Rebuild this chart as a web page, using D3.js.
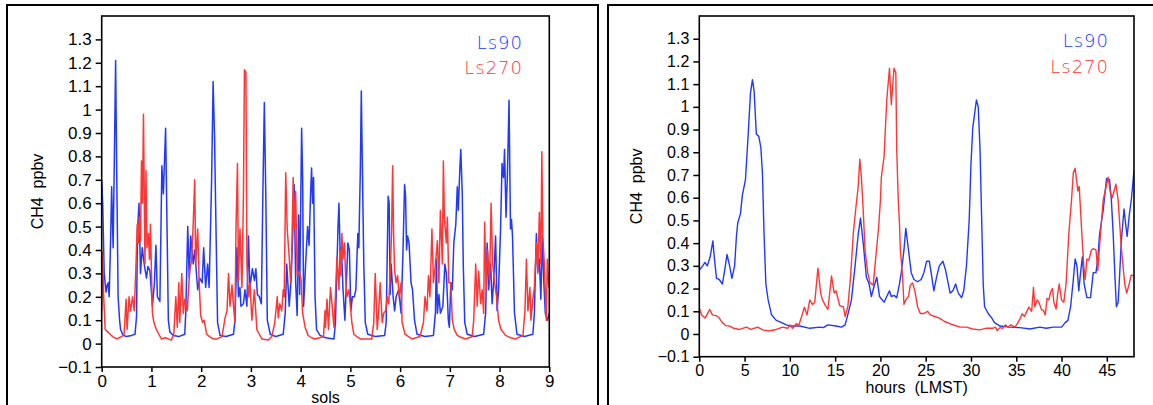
<!DOCTYPE html>
<html>
<head>
<meta charset="utf-8">
<script src="https://cdn.jsdelivr.net/npm/d3@7"></script>
<style>
  html, body { margin: 0; padding: 0; background: #fff; }
  svg { display: block; }
  .tick text { font-family: "Liberation Sans", Arial, sans-serif; fill: #000; }
  .tick line { stroke: #000; stroke-width: 1.5; }
  .title { font-family: "Liberation Sans", Arial, sans-serif; fill: #000; }
  .legend { font-family: "DejaVu Sans", sans-serif; font-weight: 200; letter-spacing: 1px; }
</style>
</head>
<body>
<svg id="chart" width="1153" height="405"></svg>
<script>
const blue = '#2038ff';
const red = '#ff3636';

// y ticks shared by both panels
const yTicks = [-0.1, 0, 0.1, 0.2, 0.3, 0.4, 0.5, 0.6, 0.7, 0.8, 0.9, 1, 1.1, 1.2, 1.3];
const solTicks = [0, 1, 2, 3, 4, 5, 6, 7, 8, 9];
const hourTicks = [0, 5, 10, 15, 20, 25, 30, 35, 40, 45];
const seriesNames = ['Ls90', 'Ls270'];

// left panel: 9 sols, [sol, ppbv]
const solsLs90 = [
  [0, 0.70], [0.02, 0.6], [0.05, 0.3], [0.088, 0.22], [0.11, 0.25], [0.13, 0.26], [0.15, 0.2], [0.18, 0.45],
  [0.2, 0.67], [0.23, 0.41], [0.255, 0.8], [0.28, 1.21], [0.3, 0.77], [0.33, 0.2], [0.36, 0.1], [0.38, 0.06],
  [0.43, 0.035], [0.5, 0.03], [0.6, 0.035], [0.67, 0.04], [0.7, 0.115], [0.72, 0.485], [0.75, 0.6], [0.78, 0.3],
  [0.815, 0.41], [0.855, 0.34], [0.9, 0.28], [0.93, 0.33], [0.97, 0.31], [1.02, 0.16], [1.06, 0.26], [1.09, 0.42],
  [1.12, 0.2], [1.17, 0.18], [1.21, 0.76], [1.24, 0.64], [1.285, 0.92], [1.3, 0.7], [1.34, 0.1], [1.37, 0.05],
  [1.44, 0.035], [1.55, 0.03], [1.67, 0.04], [1.69, 0.13], [1.73, 0.5], [1.76, 0.28], [1.79, 0.46], [1.84, 0.34],
  [1.87, 0.4], [1.93, 0.23], [1.97, 0.28], [2.02, 0.26], [2.05, 0.41], [2.09, 0.24], [2.13, 0.34], [2.16, 0.24],
  [2.21, 0.7], [2.24, 1.12], [2.27, 0.87], [2.29, 0.6], [2.31, 0.34], [2.33, 0.09], [2.38, 0.035], [2.5, 0.03],
  [2.65, 0.04], [2.68, 0.1], [2.72, 0.41], [2.75, 0.2], [2.78, 0.24], [2.8, 0.16], [2.85, 0.17], [2.88, 0.23],
  [2.92, 0.16], [2.95, 0.46], [2.98, 0.24], [3.03, 0.32], [3.07, 0.27], [3.1, 0.32], [3.13, 0.21], [3.17, 0.2],
  [3.21, 0.17], [3.24, 0.63], [3.27, 1.03], [3.3, 0.63], [3.33, 0.1], [3.39, 0.04], [3.5, 0.03], [3.65, 0.04],
  [3.69, 0.13], [3.72, 0.34], [3.77, 0.16], [3.81, 0.28], [3.84, 0.46], [3.87, 0.68], [3.9, 0.26], [3.93, 0.12],
  [3.96, 0.55], [3.98, 0.21], [4.02, 0.92], [4.04, 0.71], [4.06, 0.16], [4.1, 0.34], [4.14, 0.5], [4.17, 0.42],
  [4.2, 0.64], [4.22, 0.75], [4.24, 0.6], [4.26, 0.71], [4.29, 0.2], [4.32, 0.06], [4.39, 0.035], [4.5, 0.025],
  [4.67, 0.02], [4.7, 0.09], [4.75, 0.49], [4.77, 0.6], [4.8, 0.34], [4.82, 0.41], [4.85, 0.24], [4.89, 0.1],
  [4.92, 0.26], [4.95, 0.43], [4.98, 0.4], [5.01, 0.14], [5.04, 0.2], [5.08, 0.2], [5.11, 0.23], [5.15, 0.47],
  [5.17, 0.41], [5.2, 0.74], [5.22, 1.08], [5.24, 0.77], [5.27, 0.34], [5.3, 0.09], [5.35, 0.04], [5.5, 0.03],
  [5.69, 0.035], [5.72, 0.09], [5.76, 0.63], [5.78, 0.6], [5.8, 0.21], [5.82, 0.34], [5.86, 0.2], [5.89, 0.14],
  [5.92, 0.2], [5.97, 0.23], [6.02, 0.13], [6.06, 0.41], [6.09, 0.68], [6.11, 0.63], [6.13, 0.4], [6.15, 0.46],
  [6.18, 0.43], [6.22, 0.26], [6.25, 0.23], [6.29, 0.1], [6.34, 0.04], [6.5, 0.03], [6.67, 0.035], [6.71, 0.13],
  [6.73, 0.36], [6.75, 0.13], [6.78, 0.21], [6.81, 0.13], [6.86, 0.16], [6.9, 0.34], [6.93, 0.3], [6.97, 0.1],
  [6.99, 0.07], [7.02, 0.26], [7.05, 0.23], [7.08, 0.43], [7.12, 0.51], [7.15, 0.67], [7.17, 0.57], [7.2, 0.74],
  [7.22, 0.83], [7.25, 0.64], [7.27, 0.34], [7.3, 0.09], [7.35, 0.04], [7.5, 0.03], [7.68, 0.04], [7.72, 0.13],
  [7.75, 0.43], [7.78, 0.23], [7.82, 0.34], [7.85, 0.17], [7.88, 0.26], [7.92, 0.46], [7.95, 0.14], [7.98, 0.23],
  [8.02, 0.49], [8.05, 0.77], [8.08, 0.71], [8.1, 0.83], [8.13, 0.54], [8.16, 0.74], [8.19, 1.04], [8.22, 0.49],
  [8.24, 0.53], [8.26, 0.46], [8.3, 0.13], [8.35, 0.04], [8.5, 0.03], [8.67, 0.04], [8.7, 0.13], [8.74, 0.47],
  [8.77, 0.31], [8.8, 0.36], [8.83, 0.19], [8.86, 0.46], [8.89, 0.26], [8.92, 0.13], [8.96, 0.1], [9, 0.13],
];

const solsLs270 = [
  [0, 0.14], [0.02, 0.39], [0.04, 0.2], [0.07, 0.06], [0.12, 0.05], [0.17, 0.04], [0.22, 0.03], [0.3, 0.02],
  [0.35, 0.025], [0.4, 0.03], [0.45, 0.04], [0.49, 0.19], [0.51, 0.06], [0.55, 0.2], [0.58, 0.14], [0.62, 0.2],
  [0.655, 0.14], [0.69, 0.34], [0.715, 0.51], [0.735, 0.43], [0.755, 0.54], [0.78, 0.44], [0.8, 0.78], [0.82, 0.6],
  [0.84, 0.98], [0.87, 0.34], [0.89, 0.74], [0.91, 0.41], [0.94, 0.47], [0.96, 0.36], [0.98, 0.51], [1.0, 0.31],
  [1.02, 0.13], [1.05, 0.09], [1.1, 0.06], [1.15, 0.04], [1.2, 0.02], [1.28, 0.025], [1.34, 0.02], [1.4, 0.015],
  [1.45, 0.04], [1.49, 0.2], [1.52, 0.07], [1.55, 0.26], [1.57, 0.09], [1.61, 0.3], [1.64, 0.13], [1.67, 0.19],
  [1.72, 0.14], [1.77, 0.31], [1.81, 0.36], [1.84, 0.51], [1.87, 0.7], [1.89, 0.34], [1.93, 0.49], [1.96, 0.26],
  [1.99, 0.12], [2.03, 0.09], [2.06, 0.1], [2.11, 0.04], [2.17, 0.03], [2.24, 0.02], [2.32, 0.02], [2.42, 0.03],
  [2.48, 0.11], [2.52, 0.14], [2.55, 0.3], [2.58, 0.16], [2.62, 0.25], [2.65, 0.16], [2.68, 0.09], [2.7, 0.49],
  [2.73, 0.77], [2.75, 0.27], [2.78, 0.49], [2.82, 0.24], [2.85, 0.63], [2.87, 1.17], [2.9, 1.16], [2.92, 0.34],
  [2.95, 0.2], [2.98, 0.26], [3.02, 0.1], [3.07, 0.23], [3.12, 0.06], [3.17, 0.04], [3.22, 0.02], [3.35, 0.015],
  [3.42, 0.03], [3.48, 0.09], [3.53, 0.2], [3.55, 0.11], [3.58, 0.17], [3.62, 0.14], [3.65, 0.23], [3.67, 0.2],
  [3.7, 0.73], [3.73, 0.49], [3.77, 0.37], [3.8, 0.26], [3.82, 0.37], [3.85, 0.71], [3.87, 0.49], [3.9, 0.65],
  [3.93, 0.29], [3.97, 0.31], [4.01, 0.27], [4.04, 0.13], [4.09, 0.07], [4.15, 0.035], [4.22, 0.025], [4.29, 0.02],
  [4.38, 0.025], [4.46, 0.03], [4.49, 0.14], [4.5, 0.07], [4.53, 0.19], [4.56, 0.06], [4.6, 0.24], [4.63, 0.17],
  [4.67, 0.07], [4.7, 0.21], [4.73, 0.37], [4.77, 0.23], [4.79, 0.4], [4.81, 0.29], [4.83, 0.47], [4.85, 0.36],
  [4.88, 0.43], [4.91, 0.26], [4.93, 0.2], [4.97, 0.23], [5.0, 0.16], [5.03, 0.09], [5.07, 0.04], [5.13, 0.03],
  [5.2, 0.02], [5.3, 0.02], [5.43, 0.02], [5.47, 0.09], [5.5, 0.3], [5.54, 0.06], [5.57, 0.14], [5.6, 0.26],
  [5.64, 0.09], [5.67, 0.13], [5.71, 0.14], [5.74, 0.2], [5.77, 0.17], [5.8, 0.29], [5.83, 0.49], [5.85, 0.76],
  [5.87, 0.46], [5.89, 0.31], [5.92, 0.26], [5.95, 0.29], [5.98, 0.2], [6.02, 0.26], [6.04, 0.09], [6.1, 0.04],
  [6.17, 0.03], [6.24, 0.02], [6.32, 0.025], [6.4, 0.03], [6.47, 0.09], [6.5, 0.2], [6.54, 0.14], [6.57, 0.29],
  [6.6, 0.2], [6.64, 0.49], [6.67, 0.26], [6.71, 0.34], [6.75, 0.44], [6.78, 0.26], [6.81, 0.57], [6.85, 0.34],
  [6.87, 0.78], [6.89, 0.54], [6.93, 0.43], [6.95, 0.54], [6.98, 0.26], [7.02, 0.26], [7.05, 0.1], [7.09, 0.06],
  [7.15, 0.035], [7.24, 0.025], [7.32, 0.02], [7.45, 0.03], [7.48, 0.1], [7.52, 0.34], [7.55, 0.16], [7.58, 0.31],
  [7.62, 0.17], [7.65, 0.23], [7.68, 0.13], [7.7, 0.52], [7.73, 0.23], [7.76, 0.4], [7.8, 0.27], [7.83, 0.6],
  [7.86, 0.34], [7.9, 0.26], [7.94, 0.2], [7.98, 0.1], [8.03, 0.06], [8.12, 0.035], [8.22, 0.025], [8.32, 0.02],
  [8.47, 0.035], [8.51, 0.14], [8.54, 0.36], [8.57, 0.14], [8.61, 0.24], [8.63, 0.1], [8.67, 0.19], [8.7, 0.24],
  [8.74, 0.43], [8.77, 0.3], [8.8, 0.56], [8.83, 0.34], [8.85, 0.82], [8.87, 0.46], [8.9, 0.34], [8.94, 0.1],
  [8.96, 0.36], [8.99, 0.24],
];

// right panel: 48 hours, [hour LMST, ppbv]
const hoursLs90 = [
  [0, 0.28], [0.37, 0.3], [0.63, 0.315], [0.88, 0.3], [1.2, 0.34], [1.5, 0.41], [1.65, 0.34], [1.9, 0.245],
  [2.2, 0.24], [2.55, 0.22], [2.8, 0.28], [3.06, 0.35], [3.35, 0.3], [3.6, 0.245], [3.9, 0.3], [4.1, 0.43],
  [4.25, 0.49], [4.55, 0.53], [4.75, 0.61], [5.1, 0.68], [5.4, 0.88], [5.65, 1.06], [5.87, 1.12], [6.05, 1.07],
  [6.3, 0.88], [6.57, 0.87], [6.8, 0.82], [6.97, 0.71], [7.05, 0.59], [7.15, 0.44], [7.35, 0.22], [7.6, 0.15],
  [7.97, 0.085], [8.5, 0.06], [9.1, 0.05], [9.6, 0.04], [10, 0.035], [11.1, 0.035], [12.2, 0.025], [13.3, 0.03],
  [13.7, 0.028], [14.2, 0.04], [15.1, 0.035], [15.7, 0.03], [16.1, 0.04], [16.4, 0.085], [16.8, 0.15], [17.2, 0.3],
  [17.55, 0.44], [17.8, 0.51], [18.1, 0.4], [18.45, 0.25], [18.75, 0.22], [19.0, 0.165], [19.3, 0.21], [19.6, 0.25],
  [19.9, 0.165], [20.4, 0.14], [20.7, 0.165], [21.0, 0.19], [21.2, 0.165], [21.5, 0.17], [21.8, 0.16], [22.1, 0.22],
  [22.3, 0.27], [22.6, 0.37], [22.8, 0.465], [23.1, 0.37], [23.4, 0.27], [23.7, 0.24], [24.1, 0.23], [24.5, 0.24],
  [24.8, 0.27], [25.1, 0.32], [25.4, 0.32], [25.6, 0.27], [25.9, 0.19], [26.2, 0.25], [26.5, 0.3], [26.9, 0.32],
  [27.2, 0.28], [27.5, 0.22], [27.7, 0.18], [28.0, 0.19], [28.3, 0.22], [28.6, 0.18], [28.96, 0.16], [29.2, 0.19],
  [29.5, 0.3], [29.8, 0.5], [30.0, 0.75], [30.2, 0.91], [30.6, 1.03], [30.8, 1.0], [31.0, 0.81], [31.17, 0.52],
  [31.35, 0.22], [31.5, 0.12], [31.9, 0.09], [32.3, 0.07], [32.6, 0.05], [33.2, 0.035], [34.3, 0.03], [35.4, 0.028],
  [36.5, 0.022], [37.6, 0.03], [38.3, 0.025], [39.1, 0.03], [40.0, 0.03], [40.4, 0.05], [40.7, 0.06], [41.0, 0.12],
  [41.3, 0.24], [41.5, 0.33], [41.7, 0.3], [41.9, 0.19], [42.1, 0.27], [42.3, 0.34], [42.5, 0.22], [42.8, 0.16],
  [43.2, 0.16], [43.5, 0.27], [43.8, 0.27], [44.0, 0.33], [44.2, 0.44], [44.6, 0.545], [44.97, 0.685], [45.3, 0.68],
  [45.5, 0.59], [45.7, 0.44], [45.9, 0.25], [46.06, 0.12], [46.25, 0.14], [46.4, 0.25], [46.6, 0.41], [46.9, 0.55],
  [47.06, 0.49], [47.24, 0.43], [47.5, 0.53], [47.7, 0.59], [48, 0.72],
];

const hoursLs270 = [
  [0, 0.113], [0.26, 0.084], [0.63, 0.07], [0.9, 0.09], [1.16, 0.108], [1.45, 0.084], [1.9, 0.08], [2.2, 0.07],
  [2.55, 0.05], [2.9, 0.037], [3.35, 0.035], [3.8, 0.025], [4.45, 0.02], [5.2, 0.03], [5.7, 0.02], [6.45, 0.03],
  [7.0, 0.018], [7.7, 0.013], [8.5, 0.02], [9.2, 0.03], [9.76, 0.025], [10, 0.04], [10.3, 0.025], [10.7, 0.045],
  [11, 0.04], [11.3, 0.077], [11.6, 0.118], [11.9, 0.084], [12.2, 0.15], [12.5, 0.13], [12.75, 0.14], [13.1, 0.29],
  [13.4, 0.18], [13.6, 0.15], [14.0, 0.12], [14.2, 0.108], [14.6, 0.255], [14.9, 0.18], [15.1, 0.19], [15.5, 0.125],
  [15.9, 0.12], [16.1, 0.077], [16.4, 0.12], [16.7, 0.25], [17.0, 0.44], [17.3, 0.56], [17.55, 0.65], [17.72, 0.77],
  [17.9, 0.69], [18.1, 0.545], [18.3, 0.37], [18.6, 0.27], [18.85, 0.225], [19.2, 0.215], [19.4, 0.3], [19.8, 0.47],
  [20.0, 0.59], [20.1, 0.69], [20.4, 0.78], [20.7, 1.03], [21.0, 1.17], [21.2, 1.01], [21.5, 1.17], [21.7, 1.15],
  [21.8, 0.81], [21.97, 0.59], [22.1, 0.49], [22.2, 0.37], [22.45, 0.25], [22.6, 0.13], [22.8, 0.15], [23.1, 0.165],
  [23.3, 0.215], [23.55, 0.225], [23.8, 0.19], [24.1, 0.12], [24.4, 0.09], [24.8, 0.09], [25.2, 0.1], [25.5, 0.084],
  [26.0, 0.077], [26.5, 0.07], [27.1, 0.055], [27.8, 0.043], [28.8, 0.03], [29.5, 0.03], [30.2, 0.022], [30.98, 0.018],
  [31.7, 0.026], [32.4, 0.025], [32.7, 0.03], [32.9, 0.015], [33.2, 0.028], [33.5, 0.025], [33.8, 0.04], [34.1, 0.03],
  [34.4, 0.04], [34.85, 0.03], [35.1, 0.045], [35.4, 0.065], [35.65, 0.089], [35.9, 0.077], [36.1, 0.094], [36.4, 0.118],
  [36.7, 0.1], [36.9, 0.205], [37.05, 0.12], [37.3, 0.15], [37.5, 0.14], [37.8, 0.105], [38.0, 0.105], [38.2, 0.084],
  [38.4, 0.157], [38.6, 0.15], [38.8, 0.186], [39.0, 0.2], [39.15, 0.14], [39.4, 0.11], [39.55, 0.17], [39.74, 0.22],
  [40.0, 0.15], [40.25, 0.14], [40.5, 0.22], [40.8, 0.44], [41.1, 0.59], [41.3, 0.71], [41.5, 0.73], [41.8, 0.63],
  [41.95, 0.65], [42.2, 0.47], [42.45, 0.3], [42.6, 0.24], [42.8, 0.33], [43.0, 0.325], [43.3, 0.37], [43.5, 0.376],
  [43.8, 0.37], [44.0, 0.28], [44.3, 0.44], [44.6, 0.59], [45.15, 0.69], [45.4, 0.62], [45.6, 0.6], [46.0, 0.66],
  [46.25, 0.59], [46.6, 0.38], [46.98, 0.22], [47.2, 0.18], [47.4, 0.21], [47.7, 0.26], [47.96, 0.255],
];

const svg = d3.select('#chart');
const fmt = d3.format('.1~f');

// outer frames round each panel
svg.append('path')
  .attr('d', 'M7,410 V5 H598 V410')
  .attr('fill', 'none').attr('stroke', '#000').attr('stroke-width', 2);
svg.append('path')
  .attr('d', 'M608,410 V5 H1160')
  .attr('fill', 'none').attr('stroke', '#000').attr('stroke-width', 2);

const drawPanel = (p) => {
  const x = d3.scaleLinear().domain(p.xDomain).range([p.left, p.right]);
  const y = d3.scaleLinear().domain([-0.1, 1.4]).range([p.bottom, p.top]);
  const g = svg.append('g');

  const clipId = `clip-${p.id}`;
  g.append('clipPath').attr('id', clipId)
    .append('rect')
    .attr('x', p.left).attr('y', p.top)
    .attr('width', p.right - p.left).attr('height', p.bottom - p.top);

  const line = d3.line().x((d) => x(d[0])).y((d) => y(d[1]));
  const lines = g.append('g').attr('clip-path', `url(#${clipId})`);
  lines.append('path').datum(p.ls90).attr('d', line)
    .attr('fill', 'none').attr('stroke', blue).attr('stroke-width', p.lw).attr('stroke-linejoin', 'round');
  lines.append('path').datum(p.ls270).attr('d', line)
    .attr('fill', 'none').attr('stroke', red).attr('stroke-width', p.lw).attr('stroke-linejoin', 'round');

  const yAxis = g.append('g')
    .attr('transform', `translate(${p.left},0)`)
    .call(d3.axisLeft(y).tickValues(yTicks).tickFormat(fmt).tickSize(6).tickSizeOuter(0).tickPadding(4));
  yAxis.select('.domain').remove();
  yAxis.selectAll('text').style('font-size', `${p.fs}px`);

  const xAxis = g.append('g')
    .attr('transform', `translate(0,${p.bottom})`)
    .call(d3.axisBottom(x).tickValues(p.xTicks).tickFormat(d3.format('d')).tickSize(5).tickSizeOuter(0).tickPadding(3));
  xAxis.select('.domain').remove();
  xAxis.selectAll('text').style('font-size', `${p.fs}px`);

  g.append('rect')
    .attr('x', p.left).attr('y', p.top)
    .attr('width', p.right - p.left).attr('height', p.bottom - p.top)
    .attr('fill', 'none').attr('stroke', '#000').attr('stroke-width', 1.6);

  g.append('text').attr('class', 'title')
    .attr('transform', `translate(${p.yLabelX},${(p.top + p.bottom) / 2}) rotate(-90)`)
    .attr('text-anchor', 'middle')
    .style('font-size', `${p.titleFs}px`)
    .style('white-space', 'pre')
    .text('CH4  ppbv');

  g.append('text').attr('class', 'title')
    .attr('x', (p.left + p.right) / 2).attr('y', p.xLabelY)
    .attr('text-anchor', 'middle')
    .style('font-size', `${p.titleFs}px`)
    .style('white-space', 'pre')
    .text(p.xLabel);

  [blue, red].forEach((c, i) => {
    g.append('text').attr('class', 'legend')
      .attr('x', p.legendX).attr('y', p.legendY + i * 25.5)
      .attr('text-anchor', 'end')
      .attr('fill', c)
      .style('font-size', '18px')
      .text(seriesNames[i]);
  });
};

drawPanel({
  id: 'sols', left: 101.7, right: 549.3, top: 16, bottom: 367,
  xDomain: [0, 9], xTicks: solTicks, ls90: solsLs90, ls270: solsLs270,
  lw: 1.5, fs: 17, titleFs: 16, yLabelX: 43, xLabel: 'sols', xLabelY: 403,
  legendX: 523, legendY: 48.5,
});

drawPanel({
  id: 'hours', left: 699.3, right: 1134, top: 16, bottom: 356.7,
  xDomain: [0, 48], xTicks: hourTicks, ls90: hoursLs90, ls270: hoursLs270,
  lw: 1.4, fs: 16, titleFs: 16, yLabelX: 641.5, xLabel: 'hours  (LMST)', xLabelY: 393,
  legendX: 1109, legendY: 47,
});
</script>
</body>
</html>
